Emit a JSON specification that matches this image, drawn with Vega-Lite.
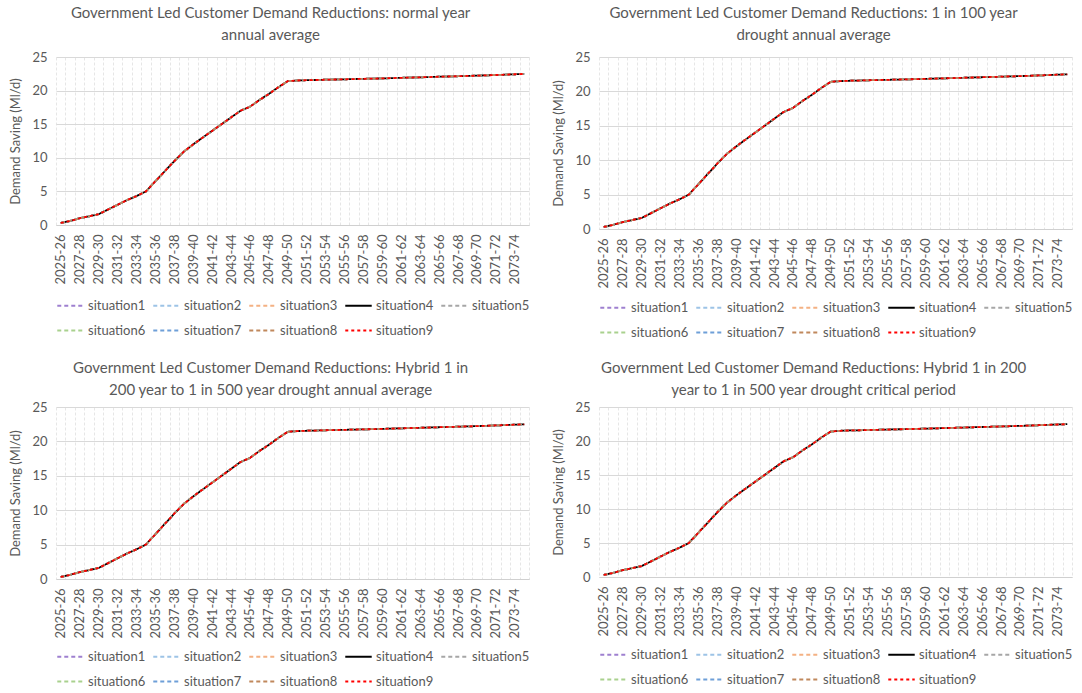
{
  "$schema": "https://vega.github.io/schema/vega-lite/v6.json",
  "background": "white",
  "padding": {"left": 9, "top": 6, "right": 2, "bottom": 0},
  "spacing": {"row": 21, "column": 20},
  "config": {
    "font": "Lato",
    "view": {"stroke": null},
    "title": {"fontSize": 15, "fontWeight": "normal", "color": "#595959", "lineHeight": 22, "frame": "bounds", "anchor": "middle", "offset": 8},
    "axis": {"labelColor": "#595959", "labelFontSize": 13, "titleColor": "#595959", "titleFontWeight": "normal", "titleFontSize": 13},
    "legend": {"labelColor": "#595959", "labelFontSize": 13}
  },
  "datasets": {
    "d": [
      {"year":"2025-26","situation1":0.3,"situation2":0.3,"situation3":0.3,"situation4":0.3,"situation5":0.3,"situation6":0.3,"situation7":0.3,"situation8":0.3,"situation9":0.3},
      {"year":"2026-27","situation1":0.6,"situation2":0.6,"situation3":0.6,"situation4":0.6,"situation5":0.6,"situation6":0.6,"situation7":0.6,"situation8":0.6,"situation9":0.6},
      {"year":"2027-28","situation1":1.0,"situation2":1.0,"situation3":1.0,"situation4":1.0,"situation5":1.0,"situation6":1.0,"situation7":1.0,"situation8":1.0,"situation9":1.0},
      {"year":"2028-29","situation1":1.3,"situation2":1.3,"situation3":1.3,"situation4":1.3,"situation5":1.3,"situation6":1.3,"situation7":1.3,"situation8":1.3,"situation9":1.3},
      {"year":"2029-30","situation1":1.6,"situation2":1.6,"situation3":1.6,"situation4":1.6,"situation5":1.6,"situation6":1.6,"situation7":1.6,"situation8":1.6,"situation9":1.6},
      {"year":"2030-31","situation1":2.3,"situation2":2.3,"situation3":2.3,"situation4":2.3,"situation5":2.3,"situation6":2.3,"situation7":2.3,"situation8":2.3,"situation9":2.3},
      {"year":"2031-32","situation1":3.0,"situation2":3.0,"situation3":3.0,"situation4":3.0,"situation5":3.0,"situation6":3.0,"situation7":3.0,"situation8":3.0,"situation9":3.0},
      {"year":"2032-33","situation1":3.7,"situation2":3.7,"situation3":3.7,"situation4":3.7,"situation5":3.7,"situation6":3.7,"situation7":3.7,"situation8":3.7,"situation9":3.7},
      {"year":"2033-34","situation1":4.3,"situation2":4.3,"situation3":4.3,"situation4":4.3,"situation5":4.3,"situation6":4.3,"situation7":4.3,"situation8":4.3,"situation9":4.3},
      {"year":"2034-35","situation1":5.0,"situation2":5.0,"situation3":5.0,"situation4":5.0,"situation5":5.0,"situation6":5.0,"situation7":5.0,"situation8":5.0,"situation9":5.0},
      {"year":"2035-36","situation1":6.5,"situation2":6.5,"situation3":6.5,"situation4":6.5,"situation5":6.5,"situation6":6.5,"situation7":6.5,"situation8":6.5,"situation9":6.5},
      {"year":"2036-37","situation1":8.0,"situation2":8.0,"situation3":8.0,"situation4":8.0,"situation5":8.0,"situation6":8.0,"situation7":8.0,"situation8":8.0,"situation9":8.0},
      {"year":"2037-38","situation1":9.5,"situation2":9.5,"situation3":9.5,"situation4":9.5,"situation5":9.5,"situation6":9.5,"situation7":9.5,"situation8":9.5,"situation9":9.5},
      {"year":"2038-39","situation1":10.9,"situation2":10.9,"situation3":10.9,"situation4":10.9,"situation5":10.9,"situation6":10.9,"situation7":10.9,"situation8":10.9,"situation9":10.9},
      {"year":"2039-40","situation1":12.0,"situation2":12.0,"situation3":12.0,"situation4":12.0,"situation5":12.0,"situation6":12.0,"situation7":12.0,"situation8":12.0,"situation9":12.0},
      {"year":"2040-41","situation1":13.0,"situation2":13.0,"situation3":13.0,"situation4":13.0,"situation5":13.0,"situation6":13.0,"situation7":13.0,"situation8":13.0,"situation9":13.0},
      {"year":"2041-42","situation1":14.0,"situation2":14.0,"situation3":14.0,"situation4":14.0,"situation5":14.0,"situation6":14.0,"situation7":14.0,"situation8":14.0,"situation9":14.0},
      {"year":"2042-43","situation1":15.0,"situation2":15.0,"situation3":15.0,"situation4":15.0,"situation5":15.0,"situation6":15.0,"situation7":15.0,"situation8":15.0,"situation9":15.0},
      {"year":"2043-44","situation1":16.0,"situation2":16.0,"situation3":16.0,"situation4":16.0,"situation5":16.0,"situation6":16.0,"situation7":16.0,"situation8":16.0,"situation9":16.0},
      {"year":"2044-45","situation1":17.0,"situation2":17.0,"situation3":17.0,"situation4":17.0,"situation5":17.0,"situation6":17.0,"situation7":17.0,"situation8":17.0,"situation9":17.0},
      {"year":"2045-46","situation1":17.6,"situation2":17.6,"situation3":17.6,"situation4":17.6,"situation5":17.6,"situation6":17.6,"situation7":17.6,"situation8":17.6,"situation9":17.6},
      {"year":"2046-47","situation1":18.6,"situation2":18.6,"situation3":18.6,"situation4":18.6,"situation5":18.6,"situation6":18.6,"situation7":18.6,"situation8":18.6,"situation9":18.6},
      {"year":"2047-48","situation1":19.5,"situation2":19.5,"situation3":19.5,"situation4":19.5,"situation5":19.5,"situation6":19.5,"situation7":19.5,"situation8":19.5,"situation9":19.5},
      {"year":"2048-49","situation1":20.5,"situation2":20.5,"situation3":20.5,"situation4":20.5,"situation5":20.5,"situation6":20.5,"situation7":20.5,"situation8":20.5,"situation9":20.5},
      {"year":"2049-50","situation1":21.4,"situation2":21.4,"situation3":21.4,"situation4":21.4,"situation5":21.4,"situation6":21.4,"situation7":21.4,"situation8":21.4,"situation9":21.4},
      {"year":"2050-51","situation1":21.5,"situation2":21.5,"situation3":21.5,"situation4":21.5,"situation5":21.5,"situation6":21.5,"situation7":21.5,"situation8":21.5,"situation9":21.5},
      {"year":"2051-52","situation1":21.55,"situation2":21.55,"situation3":21.55,"situation4":21.55,"situation5":21.55,"situation6":21.55,"situation7":21.55,"situation8":21.55,"situation9":21.55},
      {"year":"2052-53","situation1":21.58,"situation2":21.58,"situation3":21.58,"situation4":21.58,"situation5":21.58,"situation6":21.58,"situation7":21.58,"situation8":21.58,"situation9":21.58},
      {"year":"2053-54","situation1":21.62,"situation2":21.62,"situation3":21.62,"situation4":21.62,"situation5":21.62,"situation6":21.62,"situation7":21.62,"situation8":21.62,"situation9":21.62},
      {"year":"2054-55","situation1":21.65,"situation2":21.65,"situation3":21.65,"situation4":21.65,"situation5":21.65,"situation6":21.65,"situation7":21.65,"situation8":21.65,"situation9":21.65},
      {"year":"2055-56","situation1":21.68,"situation2":21.68,"situation3":21.68,"situation4":21.68,"situation5":21.68,"situation6":21.68,"situation7":21.68,"situation8":21.68,"situation9":21.68},
      {"year":"2056-57","situation1":21.72,"situation2":21.72,"situation3":21.72,"situation4":21.72,"situation5":21.72,"situation6":21.72,"situation7":21.72,"situation8":21.72,"situation9":21.72},
      {"year":"2057-58","situation1":21.75,"situation2":21.75,"situation3":21.75,"situation4":21.75,"situation5":21.75,"situation6":21.75,"situation7":21.75,"situation8":21.75,"situation9":21.75},
      {"year":"2058-59","situation1":21.78,"situation2":21.78,"situation3":21.78,"situation4":21.78,"situation5":21.78,"situation6":21.78,"situation7":21.78,"situation8":21.78,"situation9":21.78},
      {"year":"2059-60","situation1":21.82,"situation2":21.82,"situation3":21.82,"situation4":21.82,"situation5":21.82,"situation6":21.82,"situation7":21.82,"situation8":21.82,"situation9":21.82},
      {"year":"2060-61","situation1":21.86,"situation2":21.86,"situation3":21.86,"situation4":21.86,"situation5":21.86,"situation6":21.86,"situation7":21.86,"situation8":21.86,"situation9":21.86},
      {"year":"2061-62","situation1":21.9,"situation2":21.9,"situation3":21.9,"situation4":21.9,"situation5":21.9,"situation6":21.9,"situation7":21.9,"situation8":21.9,"situation9":21.9},
      {"year":"2062-63","situation1":21.94,"situation2":21.94,"situation3":21.94,"situation4":21.94,"situation5":21.94,"situation6":21.94,"situation7":21.94,"situation8":21.94,"situation9":21.94},
      {"year":"2063-64","situation1":21.98,"situation2":21.98,"situation3":21.98,"situation4":21.98,"situation5":21.98,"situation6":21.98,"situation7":21.98,"situation8":21.98,"situation9":21.98},
      {"year":"2064-65","situation1":22.02,"situation2":22.02,"situation3":22.02,"situation4":22.02,"situation5":22.02,"situation6":22.02,"situation7":22.02,"situation8":22.02,"situation9":22.02},
      {"year":"2065-66","situation1":22.06,"situation2":22.06,"situation3":22.06,"situation4":22.06,"situation5":22.06,"situation6":22.06,"situation7":22.06,"situation8":22.06,"situation9":22.06},
      {"year":"2066-67","situation1":22.1,"situation2":22.1,"situation3":22.1,"situation4":22.1,"situation5":22.1,"situation6":22.1,"situation7":22.1,"situation8":22.1,"situation9":22.1},
      {"year":"2067-68","situation1":22.14,"situation2":22.14,"situation3":22.14,"situation4":22.14,"situation5":22.14,"situation6":22.14,"situation7":22.14,"situation8":22.14,"situation9":22.14},
      {"year":"2068-69","situation1":22.18,"situation2":22.18,"situation3":22.18,"situation4":22.18,"situation5":22.18,"situation6":22.18,"situation7":22.18,"situation8":22.18,"situation9":22.18},
      {"year":"2069-70","situation1":22.22,"situation2":22.22,"situation3":22.22,"situation4":22.22,"situation5":22.22,"situation6":22.22,"situation7":22.22,"situation8":22.22,"situation9":22.22},
      {"year":"2070-71","situation1":22.27,"situation2":22.27,"situation3":22.27,"situation4":22.27,"situation5":22.27,"situation6":22.27,"situation7":22.27,"situation8":22.27,"situation9":22.27},
      {"year":"2071-72","situation1":22.32,"situation2":22.32,"situation3":22.32,"situation4":22.32,"situation5":22.32,"situation6":22.32,"situation7":22.32,"situation8":22.32,"situation9":22.32},
      {"year":"2072-73","situation1":22.37,"situation2":22.37,"situation3":22.37,"situation4":22.37,"situation5":22.37,"situation6":22.37,"situation7":22.37,"situation8":22.37,"situation9":22.37},
      {"year":"2073-74","situation1":22.43,"situation2":22.43,"situation3":22.43,"situation4":22.43,"situation5":22.43,"situation6":22.43,"situation7":22.43,"situation8":22.43,"situation9":22.43},
      {"year":"2074-75","situation1":22.48,"situation2":22.48,"situation3":22.48,"situation4":22.48,"situation5":22.48,"situation6":22.48,"situation7":22.48,"situation8":22.48,"situation9":22.48}
    ]
  },
  "columns": 2,
  "resolve": {
    "scale": {"color": "independent", "strokeDash": "independent", "strokeWidth": "independent"},
    "legend": {"color": "independent", "strokeDash": "independent", "strokeWidth": "independent"}
  },
  "concat": [
    {
      "title": {"text": ["Government Led Customer Demand Reductions: normal year", "annual average"]},
      "width": 473, "height": 168,
      "data": {"name": "d"},
      "transform": [{"fold": ["situation1","situation2","situation3","situation4","situation5","situation6","situation7","situation8","situation9"], "as": ["situation","value"]}],
      "mark": {"type": "line", "strokeCap": "butt"},
      "encoding": {
        "x": {"field": "year", "type": "ordinal", "sort": null, "bandPosition": 0.5, "scale": {"type": "band", "paddingInner": 0, "paddingOuter": 0},
              "axis": {"title": null, "labelAngle": -90, "labelPadding": 9, "ticks": false, "tickBand": "extent", "grid": true, "gridColor": "#E6E6E6", "gridDash": [3,2], "domainColor": "#D0D0D0", "labelOverlap": false, "labelExpr": "parseInt(substring(datum.value,0,4)) % 2 == 1 ? datum.value : ''"}},
        "y": {"field": "value", "type": "quantitative", "scale": {"domain": [0,25], "nice": false},
              "axis": {"title": "Demand Saving (Ml/d)", "values": [0,5,10,15,20,25], "ticks": false, "domain": false, "gridColor": "#D9D9D9", "labelPadding": 9, "titlePadding": 9}},
        "color": {"field": "situation", "type": "nominal", "title": null,
                  "scale": {"domain": ["situation1","situation2","situation3","situation4","situation5","situation6","situation7","situation8","situation9"], "range": ["#9E80D0","#9DC3E6","#F4B183","#000000","#A6A6A6","#A9D18E","#6E9FD8","#C0885C","#FF0000"]},
                  "legend": {"orient": "bottom", "columns": 5, "symbolType": "stroke", "symbolSize": 700, "columnPadding": 3, "rowPadding": 3, "offset": 6, "labelOffset": 3}},
        "strokeDash": {"field": "situation", "type": "nominal", "title": null,
                  "scale": {"domain": ["situation1","situation2","situation3","situation4","situation5","situation6","situation7","situation8","situation9"], "range": [[4,3],[4,3],[4,3],[1,0],[4,3],[4,3],[4,3],[4,3],[3,3]]},
                  "legend": {"orient": "bottom", "columns": 5, "symbolType": "stroke", "symbolSize": 700, "columnPadding": 3, "rowPadding": 3, "offset": 6, "labelOffset": 3}},
        "strokeWidth": {"field": "situation", "type": "nominal", "title": null,
                  "scale": {"domain": ["situation1","situation2","situation3","situation4","situation5","situation6","situation7","situation8","situation9"], "range": [1.8,1.8,1.8,3,1.8,1.8,1.8,1.8,2]},
                  "legend": {"orient": "bottom", "columns": 5, "symbolType": "stroke", "symbolSize": 700, "columnPadding": 3, "rowPadding": 3, "offset": 6, "labelOffset": 3}}
      }
    },
    {
      "title": {"text": ["Government Led Customer Demand Reductions: 1 in 100 year", "drought annual average"]},
      "width": 473, "height": 172,
      "data": {"name": "d"},
      "transform": [{"fold": ["situation1","situation2","situation3","situation4","situation5","situation6","situation7","situation8","situation9"], "as": ["situation","value"]}],
      "mark": {"type": "line", "strokeCap": "butt"},
      "encoding": {
        "x": {"field": "year", "type": "ordinal", "sort": null, "bandPosition": 0.5, "scale": {"type": "band", "paddingInner": 0, "paddingOuter": 0},
              "axis": {"title": null, "labelAngle": -90, "labelPadding": 9, "ticks": false, "tickBand": "extent", "grid": true, "gridColor": "#E6E6E6", "gridDash": [3,2], "domainColor": "#D0D0D0", "labelOverlap": false, "labelExpr": "parseInt(substring(datum.value,0,4)) % 2 == 1 ? datum.value : ''"}},
        "y": {"field": "value", "type": "quantitative", "scale": {"domain": [0,25], "nice": false},
              "axis": {"title": "Demand Saving (Ml/d)", "values": [0,5,10,15,20,25], "ticks": false, "domain": false, "gridColor": "#D9D9D9", "labelPadding": 9, "titlePadding": 9}},
        "color": {"field": "situation", "type": "nominal", "title": null,
                  "scale": {"domain": ["situation1","situation2","situation3","situation4","situation5","situation6","situation7","situation8","situation9"], "range": ["#9E80D0","#9DC3E6","#F4B183","#000000","#A6A6A6","#A9D18E","#6E9FD8","#C0885C","#FF0000"]},
                  "legend": {"orient": "bottom", "columns": 5, "symbolType": "stroke", "symbolSize": 700, "columnPadding": 3, "rowPadding": 3, "offset": 4, "labelOffset": 3}},
        "strokeDash": {"field": "situation", "type": "nominal", "title": null,
                  "scale": {"domain": ["situation1","situation2","situation3","situation4","situation5","situation6","situation7","situation8","situation9"], "range": [[4,3],[4,3],[4,3],[1,0],[4,3],[4,3],[4,3],[4,3],[3,3]]},
                  "legend": {"orient": "bottom", "columns": 5, "symbolType": "stroke", "symbolSize": 700, "columnPadding": 3, "rowPadding": 3, "offset": 4, "labelOffset": 3}},
        "strokeWidth": {"field": "situation", "type": "nominal", "title": null,
                  "scale": {"domain": ["situation1","situation2","situation3","situation4","situation5","situation6","situation7","situation8","situation9"], "range": [1.8,1.8,1.8,3,1.8,1.8,1.8,1.8,2]},
                  "legend": {"orient": "bottom", "columns": 5, "symbolType": "stroke", "symbolSize": 700, "columnPadding": 3, "rowPadding": 3, "offset": 4, "labelOffset": 3}}
      }
    },
    {
      "title": {"text": ["Government Led Customer Demand Reductions: Hybrid 1 in", "200 year to 1 in 500 year drought annual average"], "offset": 3},
      "width": 473, "height": 172,
      "data": {"name": "d"},
      "transform": [{"fold": ["situation1","situation2","situation3","situation4","situation5","situation6","situation7","situation8","situation9"], "as": ["situation","value"]}],
      "mark": {"type": "line", "strokeCap": "butt"},
      "encoding": {
        "x": {"field": "year", "type": "ordinal", "sort": null, "bandPosition": 0.5, "scale": {"type": "band", "paddingInner": 0, "paddingOuter": 0},
              "axis": {"title": null, "labelAngle": -90, "labelPadding": 9, "ticks": false, "tickBand": "extent", "grid": true, "gridColor": "#E6E6E6", "gridDash": [3,2], "domainColor": "#D0D0D0", "labelOverlap": false, "labelExpr": "parseInt(substring(datum.value,0,4)) % 2 == 1 ? datum.value : ''"}},
        "y": {"field": "value", "type": "quantitative", "scale": {"domain": [0,25], "nice": false},
              "axis": {"title": "Demand Saving (Ml/d)", "values": [0,5,10,15,20,25], "ticks": false, "domain": false, "gridColor": "#D9D9D9", "labelPadding": 9, "titlePadding": 9}},
        "color": {"field": "situation", "type": "nominal", "title": null,
                  "scale": {"domain": ["situation1","situation2","situation3","situation4","situation5","situation6","situation7","situation8","situation9"], "range": ["#9E80D0","#9DC3E6","#F4B183","#000000","#A6A6A6","#A9D18E","#6E9FD8","#C0885C","#FF0000"]},
                  "legend": {"orient": "bottom", "columns": 5, "symbolType": "stroke", "symbolSize": 700, "columnPadding": 3, "rowPadding": 3, "offset": 3, "labelOffset": 3}},
        "strokeDash": {"field": "situation", "type": "nominal", "title": null,
                  "scale": {"domain": ["situation1","situation2","situation3","situation4","situation5","situation6","situation7","situation8","situation9"], "range": [[4,3],[4,3],[4,3],[1,0],[4,3],[4,3],[4,3],[4,3],[3,3]]},
                  "legend": {"orient": "bottom", "columns": 5, "symbolType": "stroke", "symbolSize": 700, "columnPadding": 3, "rowPadding": 3, "offset": 3, "labelOffset": 3}},
        "strokeWidth": {"field": "situation", "type": "nominal", "title": null,
                  "scale": {"domain": ["situation1","situation2","situation3","situation4","situation5","situation6","situation7","situation8","situation9"], "range": [1.8,1.8,1.8,3,1.8,1.8,1.8,1.8,2]},
                  "legend": {"orient": "bottom", "columns": 5, "symbolType": "stroke", "symbolSize": 700, "columnPadding": 3, "rowPadding": 3, "offset": 3, "labelOffset": 3}}
      }
    },
    {
      "title": {"text": ["Government Led Customer Demand Reductions: Hybrid 1 in 200", "year to 1 in 500 year drought critical period"], "offset": 3},
      "width": 473, "height": 170,
      "data": {"name": "d"},
      "transform": [{"fold": ["situation1","situation2","situation3","situation4","situation5","situation6","situation7","situation8","situation9"], "as": ["situation","value"]}],
      "mark": {"type": "line", "strokeCap": "butt"},
      "encoding": {
        "x": {"field": "year", "type": "ordinal", "sort": null, "bandPosition": 0.5, "scale": {"type": "band", "paddingInner": 0, "paddingOuter": 0},
              "axis": {"title": null, "labelAngle": -90, "labelPadding": 9, "ticks": false, "tickBand": "extent", "grid": true, "gridColor": "#E6E6E6", "gridDash": [3,2], "domainColor": "#D0D0D0", "labelOverlap": false, "labelExpr": "parseInt(substring(datum.value,0,4)) % 2 == 1 ? datum.value : ''"}},
        "y": {"field": "value", "type": "quantitative", "scale": {"domain": [0,25], "nice": false},
              "axis": {"title": "Demand Saving (Ml/d)", "values": [0,5,10,15,20,25], "ticks": false, "domain": false, "gridColor": "#D9D9D9", "labelPadding": 9, "titlePadding": 9}},
        "color": {"field": "situation", "type": "nominal", "title": null,
                  "scale": {"domain": ["situation1","situation2","situation3","situation4","situation5","situation6","situation7","situation8","situation9"], "range": ["#9E80D0","#9DC3E6","#F4B183","#000000","#A6A6A6","#A9D18E","#6E9FD8","#C0885C","#FF0000"]},
                  "legend": {"orient": "bottom", "columns": 5, "symbolType": "stroke", "symbolSize": 700, "columnPadding": 3, "rowPadding": 3, "offset": 3, "labelOffset": 3}},
        "strokeDash": {"field": "situation", "type": "nominal", "title": null,
                  "scale": {"domain": ["situation1","situation2","situation3","situation4","situation5","situation6","situation7","situation8","situation9"], "range": [[4,3],[4,3],[4,3],[1,0],[4,3],[4,3],[4,3],[4,3],[3,3]]},
                  "legend": {"orient": "bottom", "columns": 5, "symbolType": "stroke", "symbolSize": 700, "columnPadding": 3, "rowPadding": 3, "offset": 3, "labelOffset": 3}},
        "strokeWidth": {"field": "situation", "type": "nominal", "title": null,
                  "scale": {"domain": ["situation1","situation2","situation3","situation4","situation5","situation6","situation7","situation8","situation9"], "range": [1.8,1.8,1.8,3,1.8,1.8,1.8,1.8,2]},
                  "legend": {"orient": "bottom", "columns": 5, "symbolType": "stroke", "symbolSize": 700, "columnPadding": 3, "rowPadding": 3, "offset": 3, "labelOffset": 3}}
      }
    }
  ]
}
